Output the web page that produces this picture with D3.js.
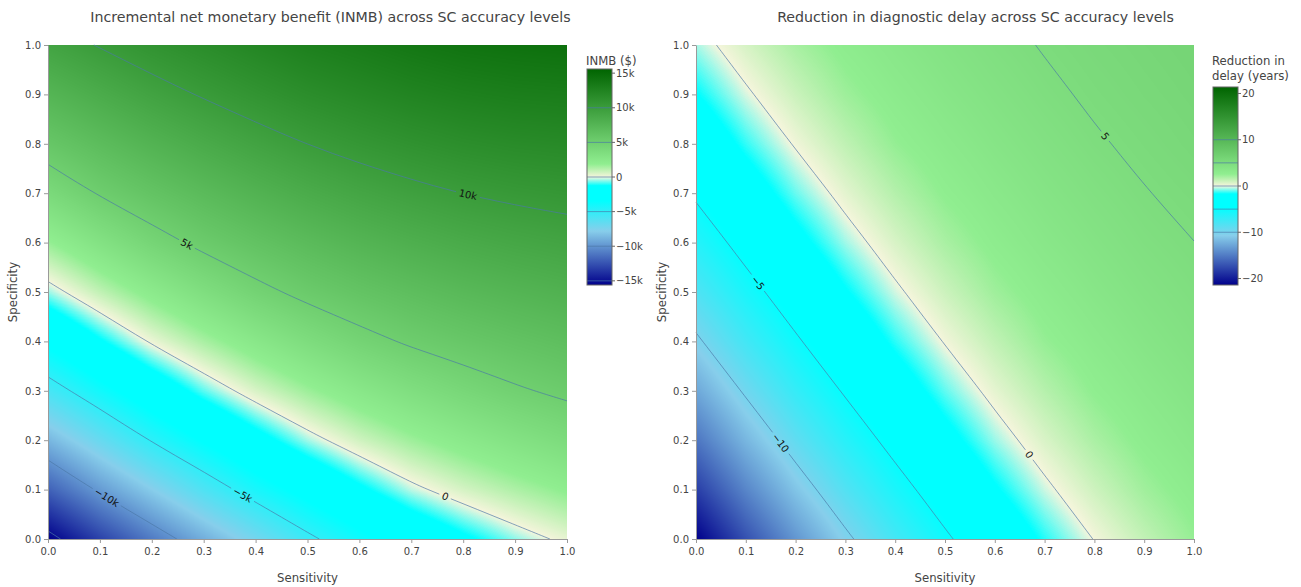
<!DOCTYPE html>
<html>
<head>
<meta charset="utf-8">
<script src="https://cdnjs.cloudflare.com/ajax/libs/d3/7.8.5/d3.min.js"></script>
<style>
  body { margin: 0; background: #fff; }
  svg { display: block; font-family: "DejaVu Sans", Verdana, sans-serif; }
</style>
</head>
<body>
<svg id="chart" width="1301" height="587"></svg>
<script>
// grid of the two surfaces
var sensitivity = [0, 0.1, 0.2, 0.3, 0.4, 0.5, 0.6, 0.7, 0.8, 0.9, 1.0];
var specificity = [0, 0.1, 0.2, 0.3, 0.4, 0.5, 0.6, 0.7, 0.8, 0.9, 1.0];
var axisTicks = [0, 0.1, 0.2, 0.3, 0.4, 0.5, 0.6, 0.7, 0.8, 0.9, 1.0];

// INMB in thousands of $ : one row per specificity, one column per sensitivity
var inmb = [
  [-15.6, -13.12, -10.93, -9.0, -7.19, -5.33, -3.88, -2.6, -1.5, -0.53, 0.26],
  [-11.92, -9.73, -7.84, -5.97, -4.26, -2.87, -1.5, -0.28, 0.60, 1.32, 1.98],
  [-8.71, -6.78, -4.87, -3.29, -1.80, -0.42, 0.70, 1.61, 2.38, 3.07, 3.71],
  [-5.76, -3.97, -2.34, -0.78, 0.54, 1.63, 2.59, 3.43, 4.16, 4.81, 5.33],
  [-3.07, -1.39, 0.17, 1.41, 2.55, 3.59, 4.49, 5.21, 5.75, 6.22, 6.64],
  [-0.47, 0.97, 2.26, 3.46, 4.56, 5.43, 6.10, 6.67, 7.18, 7.59, 7.94],
  [1.74, 3.08, 4.35, 5.40, 6.22, 6.96, 7.60, 8.14, 8.60, 8.96, 9.25],
  [3.87, 5.15, 6.12, 6.99, 7.78, 8.50, 9.10, 9.60, 10.03, 10.33, 10.56],
  [5.80, 6.80, 7.74, 8.58, 9.34, 10.03, 10.58, 11.04, 11.43, 11.69, 11.84],
  [7.52, 8.46, 9.37, 10.15, 10.84, 11.48, 11.96, 12.42, 12.77, 13.0, 13.11],
  [9.23, 10.1, 10.9, 11.55, 12.2, 12.8, 13.24, 13.69, 14.05, 14.25, 14.4]
];

// reduction in diagnostic delay (years), same layout
var delayReduction = [
  [-21.40, -17.23, -13.61, -10.46, -7.72, -5.34, -3.27, -1.47, 0.05, 1.30, 2.40],
  [-18.20, -14.46, -11.20, -8.36, -5.90, -3.75, -1.89, -0.29, 1.01, 2.14, 2.98],
  [-15.31, -11.93, -9.00, -6.46, -4.24, -2.31, -0.64, 0.72, 1.89, 2.81, 3.51],
  [-12.72, -9.69, -7.05, -4.76, -2.76, -1.03, 0.41, 1.61, 2.62, 3.34, 3.95],
  [-10.37, -7.65, -5.28, -3.21, -1.42, 0.09, 1.33, 2.42, 3.17, 3.82, 4.37],
  [-8.28, -5.83, -3.69, -1.84, -0.25, 1.05, 2.18, 3.00, 3.67, 4.24, 4.70],
  [-6.39, -4.18, -2.26, -0.60, 0.75, 1.92, 2.83, 3.53, 4.10, 4.62, 4.99],
  [-4.69, -2.71, -0.98, 0.44, 1.65, 2.64, 3.36, 3.97, 4.50, 4.95, 5.30],
  [-3.16, -1.37, 0.13, 1.37, 2.45, 3.19, 3.83, 4.38, 4.87, 5.25, 5.62],
  [-1.79, -0.21, 1.08, 2.21, 3.02, 3.69, 4.25, 4.76, 5.18, 5.54, 5.85],
  [-0.55, 0.79, 1.95, 2.85, 3.55, 4.12, 4.64, 5.08, 5.46, 5.77, 6.05]
];

var inmbLevels = [-15, -10, -5, 0, 5, 10];
var delayLevels = [-10, -5, 0, 5, 10];
var inmbBarTicks = [-15, -10, -5, 0, 5, 10, 15];
var delayBarTicks = [-20, -10, 0, 10, 20];

// colour scale, position 0..1 between -max|z| and +max|z|
var colorStops = [
  [0, "#00008b"], [0.25, "#87ceeb"], [0.39, "#00ffff"], [0.46, "#00ffff"],
  [0.5, "#f5f5dc"], [0.56, "#90ee90"], [1, "#006400"]
];

var svg = d3.select("#chart");
var textColor = "#444";
var lineColor = "#4a78a8";

function signed(v) { return v < 0 ? "\u2212" + Math.abs(v) : String(v); }
function kFormat(v) { return v === 0 ? "0" : signed(v) + "k"; }

// contour crossings on grid lines, ordered along the curve
function contourPoints(z, level) {
  var pts = [], n = sensitivity.length, m = specificity.length, i, j, a, b;
  for (j = 0; j < m; j++) {
    for (i = 0; i < n - 1; i++) {
      a = z[j][i]; b = z[j][i + 1];
      if ((a - level) * (b - level) < 0)
        pts.push([sensitivity[i] + (level - a) / (b - a) * (sensitivity[i + 1] - sensitivity[i]), specificity[j]]);
    }
  }
  for (i = 0; i < n; i++) {
    for (j = 0; j < m - 1; j++) {
      a = z[j][i]; b = z[j + 1][i];
      if ((a - level) * (b - level) < 0)
        pts.push([sensitivity[i], specificity[j] + (level - a) / (b - a) * (specificity[j + 1] - specificity[j])]);
    }
  }
  pts.sort(function (u, v) { return u[0] - v[0] || v[1] - u[1]; });
  return pts;
}

function draw(cfg, idx) {
  var x = d3.scaleLinear().domain([0, 1]).range([cfg.left, cfg.right]);
  var y = d3.scaleLinear().domain([0, 1]).range([cfg.bottom, cfg.top]);
  var z = cfg.z;
  var zmax = d3.max(z, function (row) { return d3.max(row, Math.abs); });
  var color = d3.scaleLinear()
    .domain(colorStops.map(function (d) { return -zmax + d[0] * 2 * zmax; }))
    .range(colorStops.map(function (d) { return d[1]; }))
    .clamp(true);

  // heatmap, smoothed between grid values
  var w = Math.round(cfg.right - cfg.left), h = Math.round(cfg.bottom - cfg.top);
  var canvas = document.createElement("canvas");
  canvas.width = w; canvas.height = h;
  var ctx = canvas.getContext("2d");
  var img = ctx.createImageData(w, h);
  var lut = d3.range(1024).map(function (k) { return d3.rgb(color(-zmax + k / 1023 * 2 * zmax)); });
  var gi = d3.scaleLinear().domain(d3.extent(sensitivity)).range([0, sensitivity.length - 1]).clamp(true);
  var gj = d3.scaleLinear().domain(d3.extent(specificity)).range([0, specificity.length - 1]).clamp(true);
  for (var py = 0; py < h; py++) {
    var fj = gj(y.invert(cfg.top + py + 0.5));
    var j0 = Math.min(Math.floor(fj), specificity.length - 2), tj = fj - j0;
    for (var px = 0; px < w; px++) {
      var fi = gi(x.invert(cfg.left + px + 0.5));
      var i0 = Math.min(Math.floor(fi), sensitivity.length - 2), ti = fi - i0;
      var v = (1 - tj) * ((1 - ti) * z[j0][i0] + ti * z[j0][i0 + 1]) +
              tj * ((1 - ti) * z[j0 + 1][i0] + ti * z[j0 + 1][i0 + 1]);
      var k = Math.max(0, Math.min(1023, Math.round((v + zmax) / (2 * zmax) * 1023)));
      var c = lut[k], o = (py * w + px) * 4;
      img.data[o] = c.r; img.data[o + 1] = c.g; img.data[o + 2] = c.b; img.data[o + 3] = 255;
    }
  }
  ctx.putImageData(img, 0, 0);
  svg.append("image")
    .attr("x", cfg.left).attr("y", cfg.top)
    .attr("width", w).attr("height", h)
    .attr("preserveAspectRatio", "none")
    .attr("href", canvas.toDataURL());

  // contour lines with labels
  var line = d3.line()
    .x(function (d) { return x(d[0]); })
    .y(function (d) { return y(d[1]); })
    .curve(d3.curveBasis);
  var cg = svg.append("g");
  cfg.levels.forEach(function (level, li) {
    var raw = contourPoints(z, level);
    if (raw.length < 2) return;
    // drop crossings that sit too close together, they only add kinks
    var pts = raw.filter(function (p, i) {
      if (i === 0 || i === raw.length - 1) return true;
      var q = raw[i - 1];
      return Math.hypot(x(p[0]) - x(q[0]), y(p[1]) - y(q[1])) > 12;
    });
    var path = cg.append("path")
      .attr("d", line(pts))
      .attr("fill", "none")
      .attr("stroke", lineColor)
      .attr("stroke-width", 0.8)
      .attr("stroke-opacity", 0.85);
    var at = cfg.labelAt[li];
    if (at == null) return;
    var node = path.node(), L = node.getTotalLength(), d = L * at;
    var p0 = node.getPointAtLength(Math.max(0, d - 4)), p1 = node.getPointAtLength(Math.min(L, d + 4));
    var pm = node.getPointAtLength(d);
    var ang = Math.atan2(p1.y - p0.y, p1.x - p0.x) * 180 / Math.PI;
    if (ang > 90) ang -= 180;
    if (ang < -90) ang += 180;
    var label = cg.append("text")
      .attr("transform", "translate(" + pm.x + "," + pm.y + ") rotate(" + ang + ")")
      .attr("text-anchor", "middle")
      .attr("dy", "0.35em")
      .attr("font-size", 10)
      .attr("fill", "#111")
      .text(cfg.labelFormat(level));
    var gap = label.node().getComputedTextLength() + 6;
    path.attr("stroke-dasharray", (d - gap / 2) + " " + gap + " " + L);
  });

  // axes
  var xAxis = svg.append("g")
    .attr("transform", "translate(0," + cfg.bottom + ")")
    .call(d3.axisBottom(x).tickValues(axisTicks).tickFormat(d3.format(".1f")).tickSize(4).tickSizeOuter(0).tickPadding(5));
  var yAxis = svg.append("g")
    .attr("transform", "translate(" + cfg.left + ",0)")
    .call(d3.axisLeft(y).tickValues(axisTicks).tickFormat(d3.format(".1f")).tickSize(4).tickSizeOuter(0).tickPadding(3));
  [xAxis, yAxis].forEach(function (a) {
    a.select(".domain").attr("stroke", "#9a9a9a");
    a.selectAll(".tick line").attr("stroke", "#9a9a9a");
    a.selectAll(".tick text").attr("fill", textColor).attr("font-size", 10)
      .attr("font-family", "DejaVu Sans, Verdana, sans-serif");
  });

  svg.append("text")
    .attr("x", (cfg.left + cfg.right) / 2).attr("y", 582)
    .attr("text-anchor", "middle").attr("font-size", 11.7).attr("fill", textColor)
    .text("Sensitivity");
  svg.append("text")
    .attr("transform", "translate(" + cfg.yTitleX + "," + (cfg.top + cfg.bottom) / 2 + ") rotate(-90)")
    .attr("text-anchor", "middle").attr("dy", "0.35em").attr("font-size", 11.7).attr("fill", textColor)
    .text("Specificity");
  svg.append("text")
    .attr("x", cfg.titleX).attr("y", 22)
    .attr("text-anchor", "middle").attr("font-size", 14.2).attr("fill", textColor)
    .text(cfg.title);

  // colour bar
  var cb = d3.scaleLinear().domain([-zmax, zmax]).range([cfg.cbBottom, cfg.cbTop]);
  var gradId = "grad" + idx;
  var grad = svg.append("defs").append("linearGradient")
    .attr("id", gradId).attr("x1", 0).attr("y1", 1).attr("x2", 0).attr("y2", 0);
  colorStops.forEach(function (s) {
    grad.append("stop").attr("offset", s[0]).attr("stop-color", s[1]);
  });
  var bw = 25;
  svg.append("rect")
    .attr("x", cfg.cbX).attr("y", cfg.cbTop)
    .attr("width", bw).attr("height", cfg.cbBottom - cfg.cbTop)
    .attr("fill", "url(#" + gradId + ")");
  svg.append("g").selectAll("line").data(cfg.levels.filter(function (l) { return Math.abs(l) < zmax; }))
    .join("line")
    .attr("x1", cfg.cbX).attr("x2", cfg.cbX + bw)
    .attr("y1", function (d) { return cb(d); }).attr("y2", function (d) { return cb(d); })
    .attr("stroke", lineColor).attr("stroke-width", 0.8).attr("stroke-opacity", 0.85);
  svg.append("rect")
    .attr("x", cfg.cbX).attr("y", cfg.cbTop)
    .attr("width", bw).attr("height", cfg.cbBottom - cfg.cbTop)
    .attr("fill", "none").attr("stroke", "#666").attr("stroke-width", 1);
  var tg = svg.append("g").selectAll("g").data(cfg.barTicks).join("g")
    .attr("transform", function (d) { return "translate(" + (cfg.cbX + bw) + "," + cb(d) + ")"; });
  tg.append("line").attr("x2", 3).attr("stroke", "#666");
  tg.append("text").attr("x", 4).attr("dy", "0.35em")
    .attr("font-size", 10).attr("fill", textColor)
    .text(function (d) { return cfg.labelFormat(d); });
  cfg.cbTitle.forEach(function (t, i) {
    svg.append("text")
      .attr("x", cfg.cbX - 1).attr("y", 65 + i * 15)
      .attr("font-size", 11.7).attr("fill", textColor)
      .text(t);
  });
}

draw({
  z: inmb, levels: inmbLevels, barTicks: inmbBarTicks, labelFormat: kFormat,
  labelAt: [null, 0.46, 0.72, 0.80, 0.28, 0.80],
  title: "Incremental net monetary benefit (INMB) across SC accuracy levels",
  cbTitle: ["INMB ($)"],
  left: 48, right: 567, top: 45, bottom: 539, titleX: 330.5, yTitleX: 13.3,
  cbX: 587, cbTop: 69, cbBottom: 285
}, 0);

draw({
  z: delayReduction, levels: delayLevels, barTicks: delayBarTicks, labelFormat: signed,
  labelAt: [0.535, 0.24, 0.83, 0.455, null],
  title: "Reduction in diagnostic delay across SC accuracy levels",
  cbTitle: ["Reduction in", "delay (years)"],
  left: 696, right: 1194, top: 45, bottom: 539, titleX: 975.5, yTitleX: 661.7,
  cbX: 1213, cbTop: 87, cbBottom: 285
}, 1);
</script>
</body>
</html>
